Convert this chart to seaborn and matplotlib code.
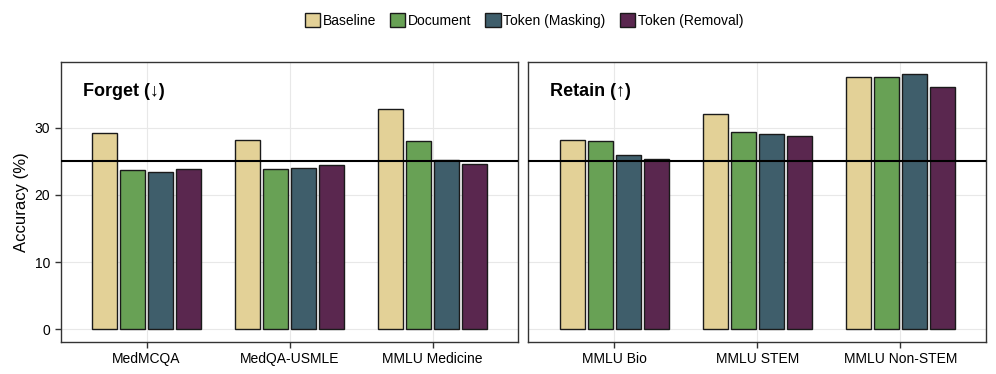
import pandas as pd
import numpy as np
import matplotlib.pyplot as plt
import seaborn as sns
from matplotlib.patches import Patch

# data
methods = ["Baseline", "Document", "Token (Masking)", "Token (Removal)"]
colors = ["#E3D197", "#68A155", "#3F5E6B", "#5A274F"]

forget_benchmarks = ["MedMCQA", "MedQA-USMLE", "MMLU Medicine"]
forget_baseline = [29.2, 28.2, 32.7]
forget_document = [23.7, 23.9, 28.0]
forget_masking = [23.4, 24.0, 25.2]
forget_removal = [23.8, 24.5, 24.6]

retain_benchmarks = ["MMLU Bio", "MMLU STEM", "MMLU Non-STEM"]
retain_baseline = [28.1, 32.0, 37.6]
retain_document = [28.0, 29.4, 37.5]
retain_masking = [25.9, 29.1, 37.9]
retain_removal = [25.3, 28.7, 36.0]

chance = 25


def to_long(benchmarks, *series):
    rows = []
    for method, vals in zip(methods, series):
        for b, v in zip(benchmarks, vals):
            rows.append({"benchmark": b, "method": method, "acc": v})
    return pd.DataFrame(rows)


df_forget = to_long(forget_benchmarks, forget_baseline, forget_document, forget_masking, forget_removal)
df_retain = to_long(retain_benchmarks, retain_baseline, retain_document, retain_masking, retain_removal)

sns.set_style("whitegrid")
plt.rcParams["font.family"] = ["Liberation Sans", "DejaVu Sans"]
plt.rcParams["text.color"] = "black"
plt.rcParams["axes.labelcolor"] = "black"
plt.rcParams["xtick.color"] = "black"
plt.rcParams["ytick.color"] = "black"

fig, axes = plt.subplots(1, 2, figsize=(9.96, 3.74), dpi=100, sharey=True)
plt.subplots_adjust(left=0.061, right=0.990, bottom=0.086, top=0.835, wspace=0.022)

panels = [(df_forget, "Forget (\u2193)"), (df_retain, "Retain (\u2191)")]
for ax, (df, title) in zip(axes, panels):
    sns.barplot(
        data=df,
        x="benchmark",
        y="acc",
        hue="method",
        hue_order=methods,
        palette=colors,
        saturation=1,
        width=0.78,
        gap=0.1,
        edgecolor="#1a1a1a",
        linewidth=1,
        legend=False,
        ax=ax,
    )
    ax.axhline(chance, color="black", lw=1.5, zorder=5)
    ax.set_xlim(-0.6, 2.6)
    ax.set_ylim(-1.85, 39.8)
    ax.set_yticks([0, 10, 20, 30])
    ax.set_xlabel("")
    ax.set_ylabel("")
    ax.grid(True, color="#e8e8e8", lw=0.8)
    ax.set_axisbelow(True)
    for s in ax.spines.values():
        s.set_color("#333333")
        s.set_linewidth(1.0)
    ax.tick_params(axis="both", labelsize=10, length=4, width=1, color="#333333", direction="out",
                   bottom=True, left=True)
    ax.text(0.048, 0.895, title, transform=ax.transAxes, fontsize=13, fontweight="bold",
            va="center", ha="left")

axes[1].tick_params(axis="y", left=False)
axes[0].set_ylabel("Accuracy (%)", fontsize=12)

handles = [Patch(facecolor=c, edgecolor="#1a1a1a", lw=1, label=m) for m, c in zip(methods, colors)]
fig.legend(handles=handles, loc="center", bbox_to_anchor=(0.526, 0.945), ncol=4, frameon=False,
           fontsize=10, handlelength=1.1, handleheight=1.1, handletextpad=0.2, columnspacing=1.0)

plt.savefig("out.png", dpi=100)
